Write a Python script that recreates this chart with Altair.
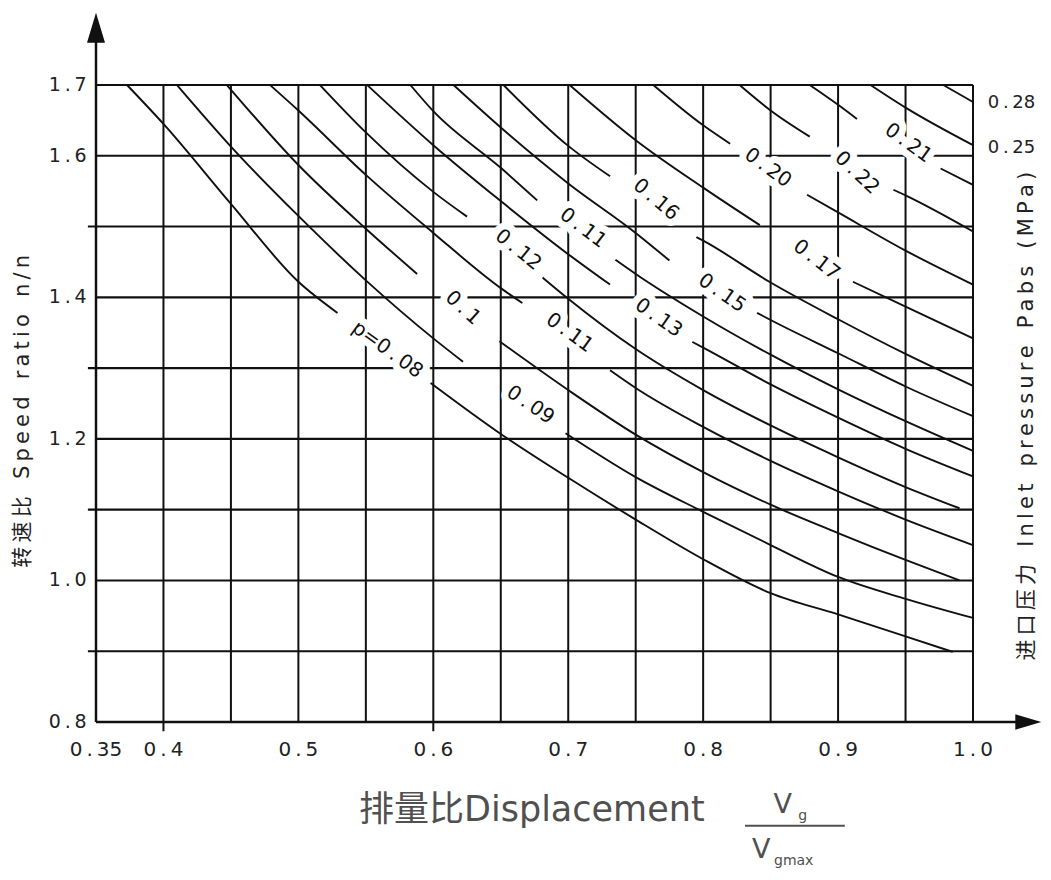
import altair as alt
import pandas as pd

# ---------------- data ----------------
x_grid = [0.35, 0.40, 0.45, 0.50, 0.55, 0.60, 0.65, 0.70, 0.75, 0.80, 0.85, 0.90, 0.95, 1.00]
x_grid_bottom = [0.8, 0.787, 0.8, 0.8, 0.8, 0.787, 0.8, 0.8, 0.8, 0.8, 0.8, 0.8, 0.8, 0.8]
y_grid = [0.8, 0.9, 1.0, 1.1, 1.2, 1.3, 1.4, 1.5, 1.6, 1.7]
y_grid_left = [0.35, 0.344, 0.35, 0.344, 0.35, 0.344, 0.35, 0.344, 0.35, 0.35]

x_tick_values = [0.35, 0.4, 0.5, 0.6, 0.7, 0.8, 0.9, 1.0]
x_tick_labels = ["0.35", "0.4", "0.5", "0.6", "0.7", "0.8", "0.9", "1.0"]
y_tick_values = [0.8, 1.0, 1.2, 1.4, 1.6, 1.7]
y_tick_labels = ["0.8", "1.0", "1.2", "1.4", "1.6", "1.7"]

# iso-pressure curves: each curve is a list of visible segments (gaps hold the labels)
c01 = [[(0.373, 1.700), (0.40, 1.645), (0.45, 1.532), (0.50, 1.422), (0.529, 1.378)],
       [(0.598, 1.279), (0.65, 1.207), (0.70, 1.145), (0.75, 1.086), (0.80, 1.030),
        (0.85, 0.982), (0.90, 0.952), (0.95, 0.921), (0.985, 0.899)]]
c02 = [[(0.410, 1.700), (0.45, 1.613), (0.50, 1.515), (0.55, 1.424), (0.60, 1.342), (0.622, 1.309)],
       [(0.698, 1.208), (0.75, 1.146), (0.80, 1.097), (0.85, 1.050), (0.90, 1.005),
        (0.95, 0.974), (1.0, 0.947)]]
c03 = [[(0.447, 1.700), (0.50, 1.587), (0.55, 1.497), (0.588, 1.433)],
       [(0.649, 1.338), (0.70, 1.269), (0.75, 1.206), (0.80, 1.153), (0.85, 1.107),
        (0.90, 1.067), (0.95, 1.029), (0.99, 1.000)]]
c04 = [[(0.479, 1.700), (0.50, 1.664), (0.55, 1.573), (0.60, 1.491), (0.65, 1.413), (0.666, 1.392)],
       [(0.731, 1.297), (0.75, 1.272), (0.80, 1.217), (0.85, 1.169), (0.90, 1.126),
        (0.95, 1.086), (1.0, 1.050)]]
c05 = [[(0.516, 1.700), (0.55, 1.633), (0.60, 1.549), (0.625, 1.514)],
       [(0.681, 1.428), (0.70, 1.398), (0.75, 1.327), (0.80, 1.269), (0.85, 1.219),
        (0.90, 1.174), (0.95, 1.132), (0.99, 1.102)]]
c06 = [[(0.551, 1.700), (0.60, 1.615), (0.65, 1.536), (0.70, 1.461), (0.731, 1.418)],
       [(0.792, 1.337), (0.80, 1.329), (0.85, 1.277), (0.90, 1.230), (0.95, 1.186), (1.0, 1.147)]]
c07 = [[(0.583, 1.700), (0.60, 1.663), (0.65, 1.583), (0.677, 1.537)],
       [(0.735, 1.453), (0.75, 1.433), (0.80, 1.373), (0.85, 1.319), (0.90, 1.270),
        (0.95, 1.225), (1.0, 1.183)]]
c08 = [[(0.615, 1.700), (0.65, 1.640), (0.70, 1.561), (0.75, 1.491), (0.775, 1.452)],
       [(0.840, 1.378), (0.85, 1.368), (0.90, 1.321), (0.95, 1.274), (1.0, 1.232)]]
c09 = [[(0.652, 1.700), (0.70, 1.614), (0.731, 1.571)],
       [(0.795, 1.485), (0.80, 1.480), (0.85, 1.421), (0.90, 1.369), (0.95, 1.320), (1.0, 1.275)]]
c10 = [[(0.701, 1.700), (0.75, 1.622), (0.80, 1.555), (0.842, 1.502)],
       [(0.911, 1.422), (0.95, 1.387), (1.0, 1.342)]]
c11 = [[(0.763, 1.700), (0.80, 1.643), (0.820, 1.617)],
       [(0.877, 1.545), (0.90, 1.520), (0.95, 1.466), (1.0, 1.418)]]
c12 = [[(0.827, 1.700), (0.85, 1.664), (0.879, 1.627)],
       [(0.941, 1.552), (0.95, 1.544), (1.0, 1.493)]]
c13 = [[(0.879, 1.700), (0.90, 1.672), (0.914, 1.652)],
       [(0.976, 1.582), (1.0, 1.559)]]
c14 = [[(0.924, 1.700), (0.95, 1.668), (1.0, 1.615)]]
c15 = [[(0.978, 1.700), (1.0, 1.676)]]
curves = [c01, c02, c03, c04, c05, c06, c07, c08, c09, c10, c11, c12, c13, c14, c15]

label_text = ["p=0.08", "0.09", "0.1", "0.11", "0.12", "0.13", "0.11", "0.15", "0.16",
              "0.17", "0.20", "0.22", "0.21"]
label_x = [0.566, 0.672, 0.622, 0.701, 0.663, 0.767, 0.711, 0.814, 0.765, 0.884, 0.848, 0.914, 0.952]
label_y = [1.326, 1.248, 1.385, 1.350, 1.467, 1.371, 1.498, 1.406, 1.538, 1.453, 1.583, 1.576, 1.618]
label_angle = [36, 34, 42, 36, 39, 35, 37, 35, 40, 38, 36, 43, 36]

side_text = ["0.28", "0.25"]
side_y = [1.675, 1.611]

# ---------------- helpers ----------------
FONT = "DejaVu Sans, Liberation Sans, sans-serif"
CJK = "DejaVu Sans, 'Noto Sans CJK SC', sans-serif"
INK = "#101010"
GREY = "#505050"
THIN = "\u2009"
EN = "\u2002"


def spaced(s):
    return s.replace(".", THIN + "." + THIN)


def track(s, word_gap=EN + " "):
    return word_gap.join(THIN.join(list(w)) for w in s.split(" "))


xs = alt.Scale(domain=[0.35, 1.0], nice=False, zero=False)
ys = alt.Scale(domain=[0.8, 1.7], nice=False, zero=False)


def X(f="x"):
    return alt.X(f"{f}:Q", scale=xs, axis=None)


def Y(f="y"):
    return alt.Y(f"{f}:Q", scale=ys, axis=None)


def text_layer(t, x, y, size, color, font=FONT, align="center", angle=0):
    df = pd.DataFrame({"t": [t], "x": [x], "y": [y]})
    return alt.Chart(df).mark_text(font=font, fontSize=size, fill=color, align=align,
                                   baseline="middle", angle=angle).encode(
        x=X(), y=Y(), text="t:N")


# ---------------- tables ----------------
vgrid = pd.DataFrame({"x": x_grid, "y": x_grid_bottom, "y2": [1.7] * len(x_grid)})
hgrid = pd.DataFrame({"y": y_grid, "x": y_grid_left, "x2": [1.0] * len(y_grid)})

rows = []
for ci, cur in enumerate(curves):
    for si, seg in enumerate(cur):
        for pi, (px, py) in enumerate(seg):
            rows.append({"key": f"{ci}_{si}", "i": pi, "x": px, "y": py})
curve_df = pd.DataFrame(rows)

lab_df = pd.DataFrame({"t": [spaced(t) for t in label_text], "x": label_x, "y": label_y,
                       "a": label_angle})
xt_df = pd.DataFrame({"t": [spaced(t) for t in x_tick_labels], "x": x_tick_values,
                      "y": [0.7605] * len(x_tick_values)})
yt_df = pd.DataFrame({"t": [spaced(t) for t in y_tick_labels], "y": y_tick_values,
                      "x": [0.343] * len(y_tick_values)})
side_df = pd.DataFrame({"t": [spaced(t) for t in side_text], "y": side_y,
                        "x": [1.011] * len(side_text)})

# ---------------- layers ----------------
vgrid_l = alt.Chart(vgrid).mark_rule(color=INK, strokeWidth=2.0).encode(
    x=X(), y=Y(), y2=alt.Y2("y2:Q"))
hgrid_l = alt.Chart(hgrid).mark_rule(color=INK, strokeWidth=2.1).encode(
    x=X(), x2=alt.X2("x2:Q"), y=Y())

curve_l = alt.Chart(curve_df).mark_line(color=INK, strokeWidth=1.9, interpolate="monotone").encode(
    x=X(), y=Y(), detail="key:N", order="i:Q")

xaxis_l = alt.Chart(pd.DataFrame({"x": [0.35], "x2": [1.04], "y": [0.8]})).mark_rule(
    color=INK, strokeWidth=2.5).encode(x=X(), x2=alt.X2("x2:Q"), y=Y())
yaxis_l = alt.Chart(pd.DataFrame({"x": [0.35], "y": [0.8], "y2": [1.78]})).mark_rule(
    color=INK, strokeWidth=2.5).encode(x=X(), y=Y(), y2=alt.Y2("y2:Q"))

arrow_r = alt.Chart(pd.DataFrame({"x": [1.041], "y": [0.8]})).mark_point(
    shape="M-1,-0.6L1,0L-1,0.6Z", size=676, filled=True, color=INK, opacity=1).encode(x=X(), y=Y())
arrow_u = alt.Chart(pd.DataFrame({"x": [0.35], "y": [1.781]})).mark_point(
    shape="M-0.6,1L0,-1L0.6,1Z", size=900, filled=True, color=INK, opacity=1).encode(x=X(), y=Y())

halo_l = alt.Chart(lab_df).mark_text(
    font=FONT, fontSize=20, fill="white", stroke="white", strokeWidth=14, strokeJoin="round",
    align="center", baseline="middle").encode(
    x=X(), y=Y(), text="t:N", angle=alt.Angle("a:Q", scale=None))
lab_l = alt.Chart(lab_df).mark_text(
    font=FONT, fontSize=20, fill=INK, align="center", baseline="middle").encode(
    x=X(), y=Y(), text="t:N", angle=alt.Angle("a:Q", scale=None))

xt_l = alt.Chart(xt_df).mark_text(font=FONT, fontSize=20, fill="#222222", align="center",
                                  baseline="middle").encode(x=X(), y=Y(), text="t:N")
yt_l = alt.Chart(yt_df).mark_text(font=FONT, fontSize=19, fill="#222222", align="right",
                                  baseline="middle").encode(x=X(), y=Y(), text="t:N")
side_l = alt.Chart(side_df).mark_text(font=FONT, fontSize=18, fill="#222222", align="left",
                                      baseline="middle").encode(x=X(), y=Y(), text="t:N")

bottom_title = text_layer("排量比Displacement", 0.673, 0.676, 35, GREY, font=CJK)
frac_V1 = text_layer("V", 0.859, 0.683, 27, GREY)
frac_g1 = text_layer("g", 0.8705, 0.667, 14, GREY, align="left")
frac_bar = alt.Chart(pd.DataFrame({"x": [0.831], "x2": [0.905], "y": [0.6535]})).mark_rule(
    color=GREY, strokeWidth=2).encode(x=X(), x2=alt.X2("x2:Q"), y=Y())
frac_V2 = text_layer("V", 0.843, 0.619, 27, GREY)
frac_g2 = text_layer("gmax", 0.8525, 0.603, 14, GREY, align="left")

left_title = text_layer(track("转速比 Speed ratio n/n"), 0.296, 1.239, 21, "#222222",
                        font=CJK, angle=270)
right_title = text_layer(track("进口压力 Inlet pressure Pabs (MPa)"), 1.040, 1.232, 21,
                         "#222222", font=CJK, angle=270)

chart = alt.layer(
    vgrid_l, hgrid_l, curve_l, xaxis_l, yaxis_l, arrow_r, arrow_u,
    halo_l, lab_l, xt_l, yt_l, side_l,
    bottom_title, frac_V1, frac_g1, frac_bar, frac_V2, frac_g2,
    left_title, right_title,
).properties(
    width=877, height=637,
    padding={"left": 88, "top": 77, "right": 70, "bottom": 149},
    autosize=alt.AutoSizeParams(type="none"),
    background="white",
).configure_view(stroke=None)

chart.save("out.html", embed_options={"renderer": "svg", "actions": False})
